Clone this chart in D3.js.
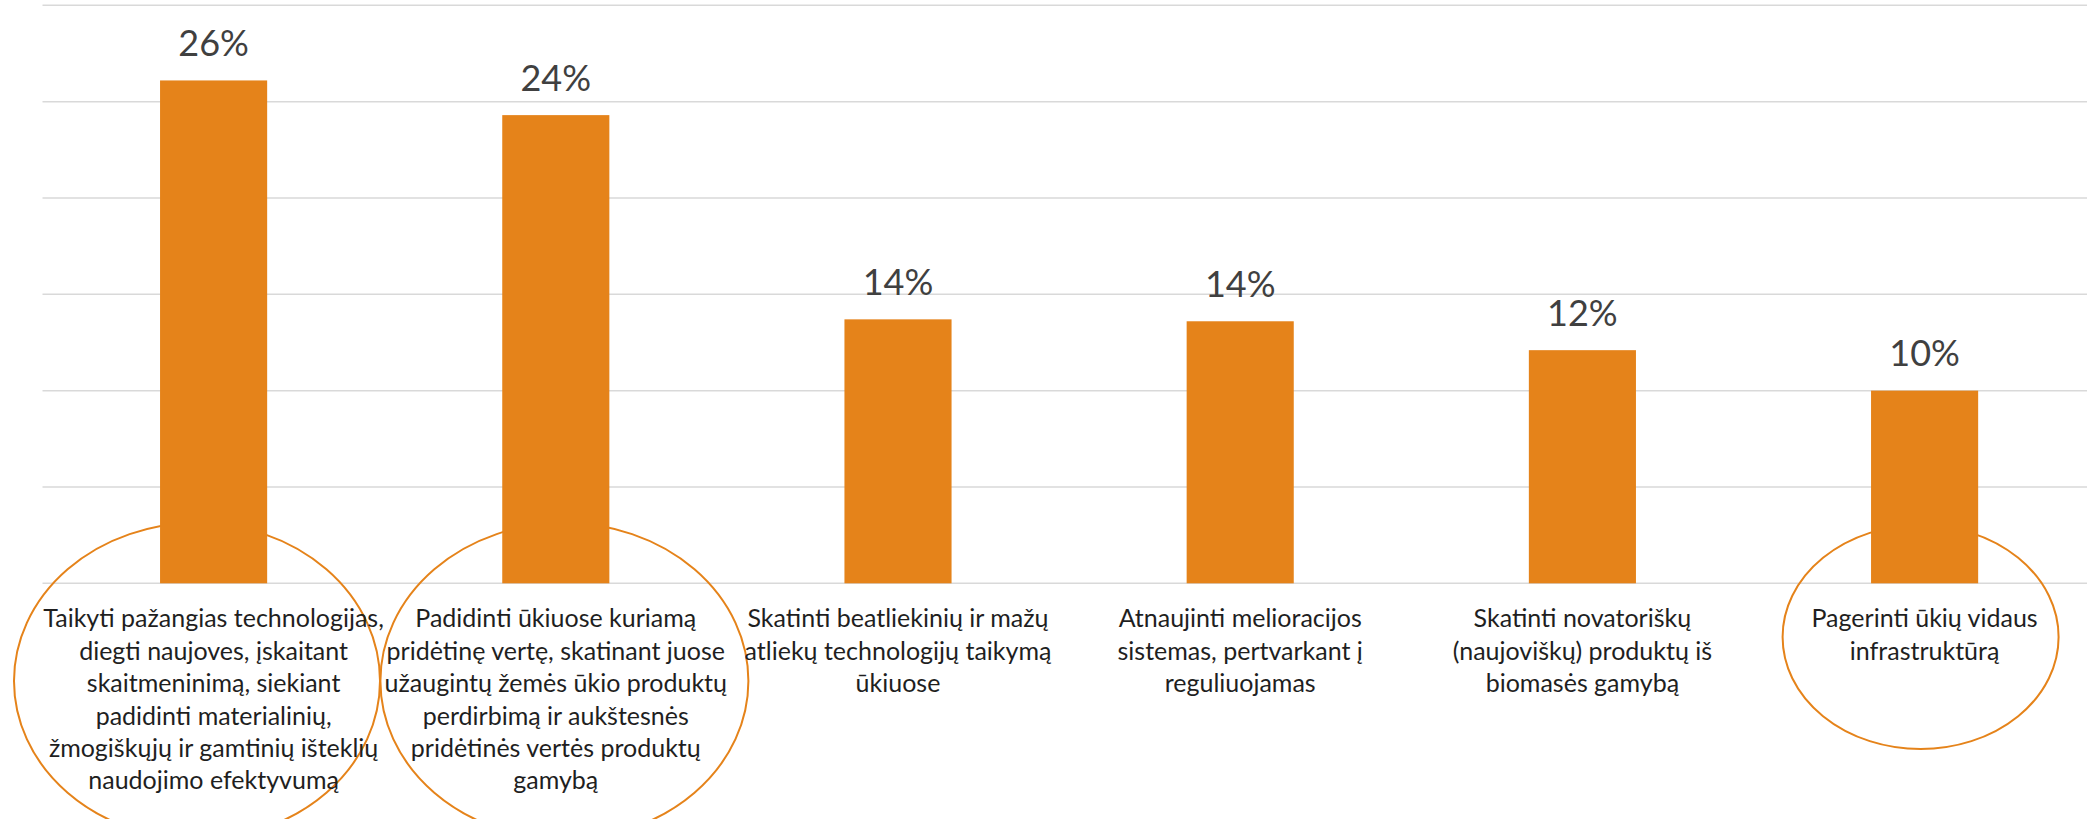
<!DOCTYPE html>
<html>
<head>
<meta charset="utf-8">
<script src="https://cdn.jsdelivr.net/npm/d3@7"></script>
<style>
  html, body { margin: 0; padding: 0; background: #ffffff; }
  svg { display: block; }
</style>
</head>
<body>
<svg id="chart" width="2087" height="819"></svg>
<script>
// ---- Data ----
const categories = [
  "Taikyti pažangias technologijas,\ndiegti naujoves, įskaitant\nskaitmeninimą, siekiant\npadidinti materialinių,\nžmogiškųjų ir gamtinių išteklių\nnaudojimo efektyvumą",
  "Padidinti ūkiuose kuriamą\npridėtinę vertę, skatinant juose\nužaugintų žemės ūkio produktų\nperdirbimą ir aukštesnės\npridėtinės vertės produktų\ngamybą",
  "Skatinti beatliekinių ir mažų\natliekų technologijų taikymą\nūkiuose",
  "Atnaujinti melioracijos\nsistemas, pertvarkant į\nreguliuojamas",
  "Skatinti novatoriškų\n(naujoviškų) produktų iš\nbiomasės gamybą",
  "Pagerinti ūkių vidaus\ninfrastruktūrą"
];
const values = [26.1, 24.3, 13.7, 13.6, 12.1, 10.0];
const yTicks = [0, 5, 10, 15, 20, 25, 30];
const highlighted = [0, 1, 5];

// ---- Layout / style ----
const W = 2087, H = 819;
const plot = { left: 42.5, right: 2095.7, top: 5.3, bottom: 583.3 };
const barColor = "#E5831A";
const ringColor = "#E5831A";
const gridColor = "#D9D9D9";
const font = "Lato, 'Open Sans', sans-serif";

const svg = d3.select("#chart");

const x = d3.scaleBand()
  .domain(d3.range(categories.length))
  .range([plot.left, plot.right])
  .paddingInner(0.687)
  .paddingOuter(0.3435);

const y = d3.scaleLinear()
  .domain([0, 30])
  .range([plot.bottom, plot.top]);

// gridlines
svg.append("g").selectAll("line")
  .data(yTicks)
  .join("line")
  .attr("x1", plot.left)
  .attr("x2", W)
  .attr("y1", d => y(d))
  .attr("y2", d => y(d))
  .attr("stroke", gridColor)
  .attr("stroke-width", 1.5);

// highlight ellipses (annotation shapes, placed relative to the category band)
const ringGeom = {
  0: { dx: -16.6, cy: 681, rx: 183, ry: 158 },
  1: { dx: 8.6, cy: 681, rx: 184, ry: 158 },
  5: { dx: -4, cy: 637, rx: 138, ry: 112 }
};
svg.append("g").selectAll("ellipse")
  .data(highlighted)
  .join("ellipse")
  .attr("cx", i => x(i) + x.bandwidth() / 2 + ringGeom[i].dx)
  .attr("cy", i => ringGeom[i].cy)
  .attr("rx", i => ringGeom[i].rx)
  .attr("ry", i => ringGeom[i].ry)
  .attr("fill", "none")
  .attr("stroke", ringColor)
  .attr("stroke-width", 2);

// bars
svg.append("g").selectAll("rect")
  .data(values)
  .join("rect")
  .attr("x", (d, i) => x(i))
  .attr("width", x.bandwidth())
  .attr("y", d => y(d))
  .attr("height", d => y(0) - y(d))
  .attr("fill", barColor);

// value labels
svg.append("g").selectAll("text")
  .data(values)
  .join("text")
  .attr("x", (d, i) => x(i) + x.bandwidth() / 2)
  .attr("y", d => y(d) - 24.3)
  .attr("text-anchor", "middle")
  .attr("font-family", font)
  .attr("font-size", 36)
  .attr("fill", "#404040")
  .text(d => d3.format(".0f")(d) + "%");

// category labels
const catG = svg.append("g");
categories.forEach((c, i) => {
  const t = catG.append("text")
    .attr("x", x(i) + x.bandwidth() / 2)
    .attr("y", 627.3)
    .attr("text-anchor", "middle")
    .attr("font-family", font)
    .attr("font-size", 25)
    .attr("fill", "#1f1f1f");
  c.split("\n").forEach((line, k) => {
    t.append("tspan")
      .attr("x", x(i) + x.bandwidth() / 2)
      .attr("y", 627.3 + k * 32.4)
      .text(line);
  });
});
</script>
</body>
</html>
